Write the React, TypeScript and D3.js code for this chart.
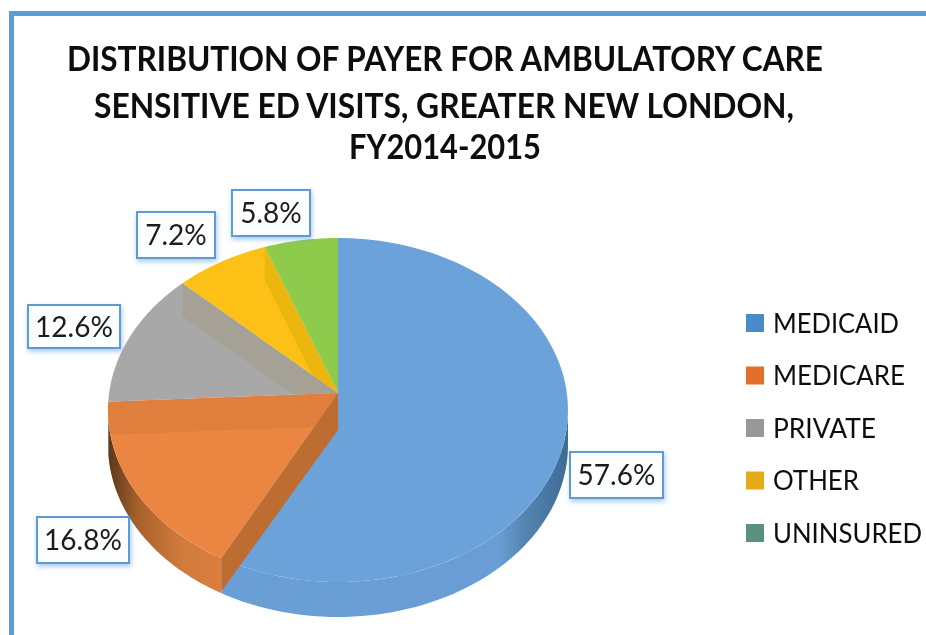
import React from "react";
import * as d3 from "d3";

const categories = ["MEDICAID", "MEDICARE", "PRIVATE", "OTHER", "UNINSURED"];
const shares = [57.6, 16.8, 12.6, 7.2, 5.8];
const shareLabels = ["57.6%", "16.8%", "12.6%", "7.2%", "5.8%"];
const titleLines = [
  "DISTRIBUTION OF PAYER FOR AMBULATORY CARE",
  "SENSITIVE ED VISITS, GREATER NEW LONDON,",
  "FY2014-2015",
];

const sliceColors = ["#6ca2da", "#ea8642", "#a8a8a8", "#fcc017", "#8ecb4e"];
const wallColors = ["#5a8ab8", "#e07e3c", "#a5a196", "#ebb60f", "#8ecb4e"];
const legendColors = ["#4a8bc9", "#e0702a", "#989898", "#e3ab13", "#5a9080"];

const W = 926, H = 635;
const apex = { x: 338, y: 393 };
const ell = { cx: 338, cy: 410, rx: 230, ry: 172 };
const depth = 33;
const warp = (a: number) => a + 0.087 * Math.sin(Math.PI * Math.pow(a / (2 * Math.PI), 2.8));

const boxes = [
  { x: 570, y: 452, w: 93, h: 46 },
  { x: 37, y: 517, w: 92, h: 46 },
  { x: 28, y: 305, w: 92, h: 43 },
  { x: 137, y: 212, w: 78, h: 46 },
  { x: 232, y: 190, w: 78, h: 46 },
];
const titleBoxes = [
  { x: 67, w: 756, y: 71 },
  { x: 94, w: 700, y: 118 },
  { x: 349, w: 192, y: 159 },
];
const legendWidths = [126, 132, 103, 86, 149];

const pt = (a: number, shift = 0): [number, number] => {
  const t = warp(a);
  return [ell.cx + ell.rx * Math.sin(t), ell.cy - ell.ry * Math.cos(t) + shift];
};
const line = d3.line<[number, number]>();
const samples = (a0: number, a1: number, shift = 0) =>
  d3.range(0, 61).map((i) => pt(a0 + ((a1 - a0) * i) / 60, shift));

export default function App() {
  const arcs = d3.pie<number>().sort(null)(shares);
  const wedges = arcs.map((d) =>
    line([[apex.x, apex.y], ...samples(d.startAngle, d.endAngle)])! + "Z"
  );
  const legendY = d3.scalePoint<string>().domain(categories).range([323, 533]);
  const band = (a0: number, a1: number) =>
    line([...samples(a0, a1), ...samples(a0, a1, depth + 2).reverse()])! + "Z";

  const blue = arcs[0];
  const orange = arcs[1];
  const frontStart = Math.PI / 2;

  return (
    <svg width={W} height={H} style={{ position: "absolute", left: 0, top: 0, background: "#fff" }}
      fontFamily="Lato, 'Open Sans', sans-serif">
      <defs>
        <filter id="soft" x="-5%" y="-5%" width="110%" height="110%">
          <feGaussianBlur stdDeviation="0.55" />
        </filter>
        <filter id="glow" x="-30%" y="-30%" width="160%" height="170%">
          <feDropShadow dx="1" dy="2.5" stdDeviation="2.5" floodColor="#5b9bd5" floodOpacity="0.55" />
        </filter>
        <linearGradient id="blueSide" gradientUnits="userSpaceOnUse" x1="226" x2="568" y1="0" y2="0">
          <stop offset="0" stopColor="#6a9fd6" />
          <stop offset="0.8" stopColor="#699dd4" />
          <stop offset="0.87" stopColor="#5586b3" />
          <stop offset="1" stopColor="#3d6b94" />
        </linearGradient>
        <linearGradient id="orangeSide" gradientUnits="userSpaceOnUse" x1="110" x2="226" y1="0" y2="0">
          <stop offset="0" stopColor="#5e3a1c" />
          <stop offset="0.25" stopColor="#a9622c" />
          <stop offset="0.6" stopColor="#cf7a3b" />
          <stop offset="1" stopColor="#dc7f3e" />
        </linearGradient>
        {wedges.map((d, i) => (
          <clipPath id={`wedge${i}`} key={i}><path d={d} /></clipPath>
        ))}
      </defs>

      <g filter="url(#soft)">
        <path d={`M${W},13.5H11.5V${H}`} fill="none" stroke="#5b9bd5" strokeWidth="5" />

        {titleLines.map((t, i) => (
          <text key={t} x={titleBoxes[i].x} y={titleBoxes[i].y} fontSize="35" fontWeight="700" fill="#0a0a0a"
            textLength={titleBoxes[i].w} lengthAdjust="spacingAndGlyphs">{t}</text>
        ))}

        {/* Front side of the disc */}
        <path d={band(frontStart, blue.endAngle)} fill="url(#blueSide)" />
        <path d={band(orange.startAngle, orange.endAngle - 0.1)} fill="url(#orangeSide)" />

        {/* Top surfaces */}
        {wedges.map((d, i) => <path key={i} d={d} fill={sliceColors[i]} />)}

        {/* Cut walls seen inside the wedges */}
        {arcs.slice(1, 4).map((d, k) => {
          const i = k + 1;
          const o = pt(d.endAngle);
          return (
            <path key={i} clipPath={`url(#wedge${i})`} fill={wallColors[i]}
              d={line([[apex.x, apex.y], o, [o[0], o[1] + depth], [apex.x, apex.y + depth]])! + "Z"} />
          );
        })}

        {/* Wall between Medicaid and Medicare */}
        {(() => {
          const o = pt(blue.endAngle);
          return (
            <path fill="#bd6c33"
              d={line([[apex.x, apex.y], [apex.x, apex.y + 37], [o[0], o[1] + depth], o])! + "Z"} />
          );
        })()}

        {legendColors.map((c, i) => (
          <g key={categories[i]}>
            <rect x="746" y={legendY(categories[i])! - 9} width="18" height="18" fill={c} />
            <text x="773" y={legendY(categories[i])! + 9.5} fontSize="26" fill="#0e0e0e"
              textLength={legendWidths[i]} lengthAdjust="spacingAndGlyphs">{categories[i]}</text>
          </g>
        ))}

        {shareLabels.map((t, i) => (
          <g key={t}>
            <rect x={boxes[i].x} y={boxes[i].y} width={boxes[i].w} height={boxes[i].h}
              fill="#fbfdfe" stroke="#5b9bd5" strokeWidth="2" filter="url(#glow)" />
            <text x={boxes[i].x + boxes[i].w / 2} y={boxes[i].y + boxes[i].h / 2 + 10} textAnchor="middle"
              fontSize="28" fill="#1a1a1a">{t}</text>
          </g>
        ))}
      </g>
    </svg>
  );
}
